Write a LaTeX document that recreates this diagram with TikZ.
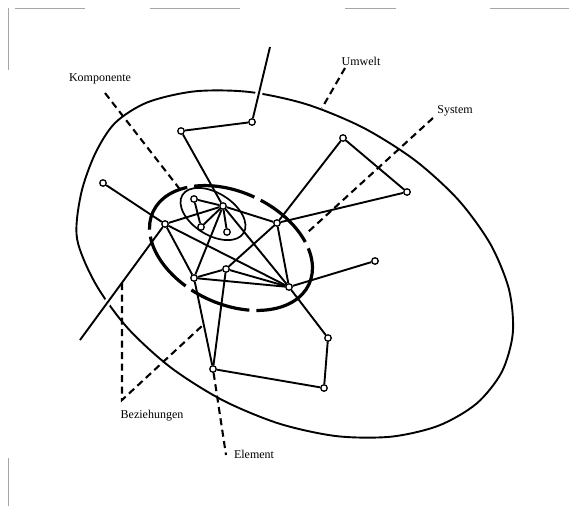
\documentclass[tikz,border=0pt]{standalone}
\usepackage{fontspec}
\setmainfont{Liberation Serif}
\pgfdeclarelayer{back}
\pgfdeclarelayer{front}
\pgfsetlayers{back,main,front}
\begin{document}
\begin{tikzpicture}[x=1pt,y=-1pt,
  el/.style={circle,draw,fill=white,inner sep=0pt,minimum size=6.5pt,line width=1.3pt},
  rel/.style={line width=1.9pt},
  halo/.style={preaction={draw=white,line width=7pt}},
  ptr/.style={line width=2.1pt,dash pattern=on 7pt off 4.5pt},
  lbl/.style={font=\fontsize{12}{14}\selectfont,inner sep=0pt},
  frame/.style={draw=black!35,line width=1pt}]
\useasboundingbox (0,0) rectangle (569,506);
% elements
\begin{pgfonlayer}{front}
\node[el] (n1) at (252,122) {};
\node[el] (n2) at (181,131) {};
\node[el] (n3) at (103,183) {};
\node[el] (n4) at (165,224) {};
\node[el] (n5) at (194,199) {};
\node[el] (n6) at (223,206) {};
\node[el] (n7) at (201,227) {};
\node[el] (n8) at (227,232) {};
\node[el] (n9) at (277,223) {};
\node[el] (n10) at (343,138) {};
\node[el] (n11) at (407,192) {};
\node[el] (n12) at (375,261) {};
\node[el] (n13) at (194,278) {};
\node[el] (n14) at (226,269) {};
\node[el] (n15) at (289,287) {};
\node[el] (n16) at (213,369) {};
\node[el] (n18) at (328,338) {};
\node[el] (n19) at (324,388) {};
\end{pgfonlayer}
\coordinate (t0) at (270,47);
\coordinate (f0) at (80,340);
% background, scan frame remnants, environment boundary
\begin{pgfonlayer}{back}
\fill[white] (0,0) rectangle (569,506);
\draw[frame] (15,8) -- (85,8) (150,8) -- (240,8) (345,8) -- (396,8) (490,8) -- (569,8);
\draw[frame] (8,8) -- (8,70) (8,458) -- (8,506);
\draw[line width=1.9pt] plot[smooth cycle] coordinates {
 (501.7,372.1) (476.4,403.7) (438.5,425.7) (390.8,436.7) (336.4,436.1)
 (279.1,423.6) (222.6,400.2) (170.9,367.6) (127.6,328) (95.6,283.9)
 (77,238.5) (81,194) (95,154) (115,123) (147.5,102.3) (195.2,91.3)
 (249.6,92) (306.9,104.4) (363.4,127.8) (415.1,160.4) (458.4,200)
 (490.4,244.1) (509,289.5) (512.8,333.1)};
\draw[rel,halo] (t0) -- (n1);
\draw[rel,halo] (n4) -- (f0);
\end{pgfonlayer}
% system boundary and component
\draw[line width=3.2pt,dash pattern=on 62pt off 7pt,rotate around={-25:(231,248)}]
  (231,248) ellipse [x radius=86,y radius=56];
\draw[line width=1.7pt,rotate around={-32:(213,214)}]
  (213,214) ellipse [x radius=36,y radius=21];
% relations
\draw[rel] (n1) -- (n2);
\draw[rel] (n2) -- (n6);
\draw[rel] (n3) -- (n4);
\draw[rel] (n4) -- (n6);
\draw[rel] (n4) -- (n13);
\draw[rel] (n4) -- (n15);
\draw[rel] (n5) -- (n6);
\draw[rel] (n5) -- (n7);
\draw[rel] (n6) -- (n7);
\draw[rel] (n6) -- (n8);
\draw[rel] (n6) -- (n9);
\draw[rel] (n6) -- (n13);
\draw[rel] (n6) -- (n15);
\draw[rel] (n9) -- (n10);
\draw[rel] (n10) -- (n11);
\draw[rel] (n9) -- (n11);
\draw[rel] (n9) -- (n15);
\draw[rel] (n9) -- (n14);
\draw[rel] (n13) -- (n14);
\draw[rel] (n13) -- (n15);
\draw[rel] (n14) -- (n15);
\draw[rel] (n15) -- (n12);
\draw[rel] (n15) -- (n18);
\draw[rel] (n18) -- (n19);
\draw[rel] (n19) -- (n16);
\draw[rel] (n16) -- (n13);
\draw[rel] (n16) -- (n14);
% labels
\node[lbl] (komp) at (100,79) {Komponente};
\node[lbl] (umw) at (361,61) {Umwelt};
\node[lbl] (sys) at (455,111) {System};
\node[lbl] (bez) at (152,416) {Beziehungen};
\node[lbl] (elem) at (254,454) {Element};
% pointers
\coordinate (kA) at (105,93);  \coordinate (kB) at (182,192);
\coordinate (uA) at (345,68);  \coordinate (uB) at (322,108);
\coordinate (sA) at (433,118); \coordinate (sB) at (308,232);
\coordinate (bA) at (122,283); \coordinate (bV) at (122,400); \coordinate (bB) at (203,325);
\coordinate (eB) at (226,455);
\draw[ptr] (kA) -- (kB);
\draw[ptr] (uA) -- (uB);
\draw[ptr] (sA) -- (sB);
\draw[ptr] (bA) -- (bV) -- (bB);
\draw[ptr] (n16) -- (eB);
\end{tikzpicture}
\end{document}
